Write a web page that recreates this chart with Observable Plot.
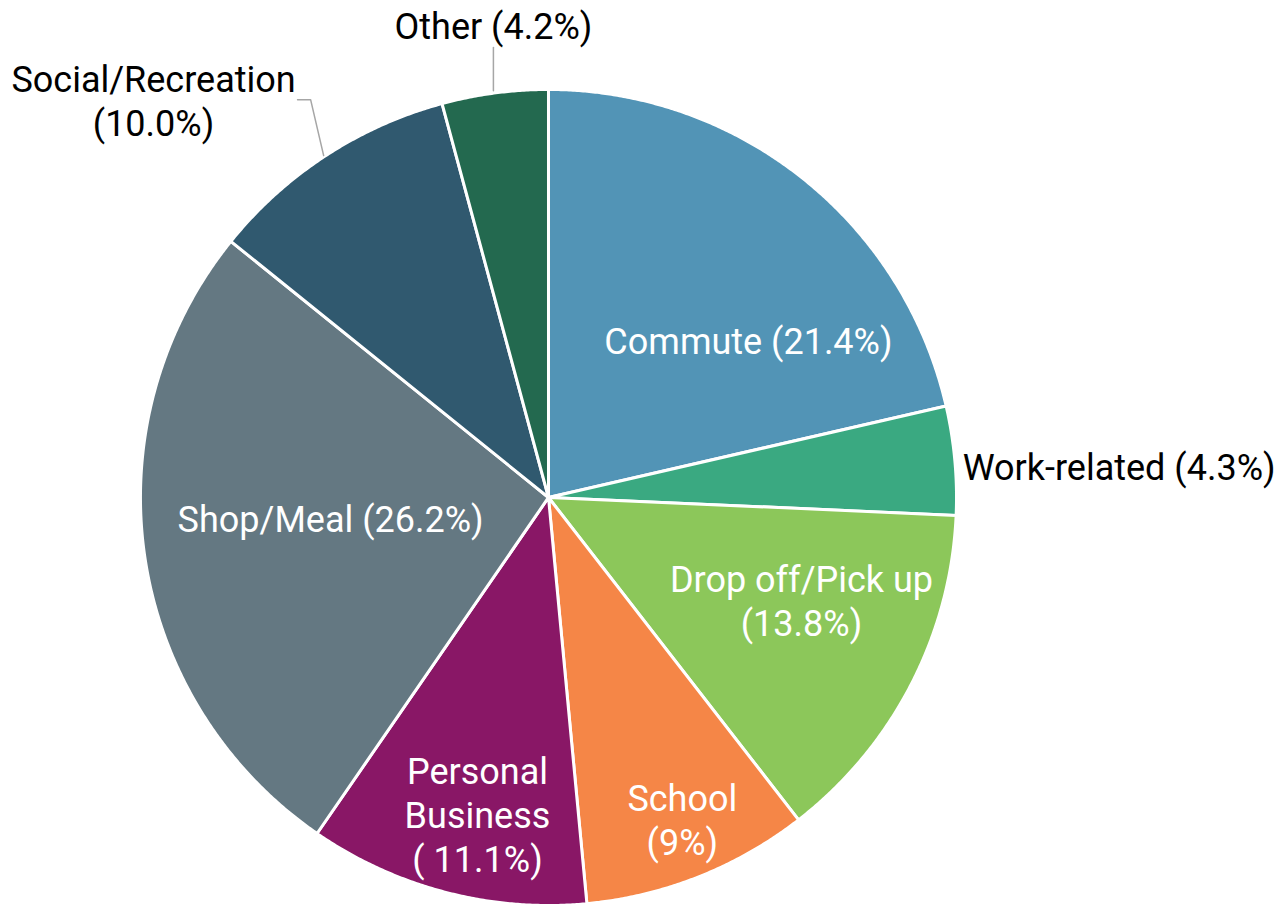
<!DOCTYPE html>
<html><head><meta charset="utf-8">
<script src="https://cdn.jsdelivr.net/npm/d3@7"></script>
<script src="https://cdn.jsdelivr.net/npm/@observablehq/plot@0.6"></script>
<style>body{margin:0;background:#fff} #chart{width:1280px;height:905px;overflow:hidden}</style>
</head><body><div id="chart"></div>
<script>
// ---- data ----
const categories = ["Commute","Work-related","Drop off/Pick up","School","Personal Business","Shop/Meal","Social/Recreation","Other"];
const shares = [21.4, 4.3, 13.8, 9, 11.1, 26.2, 10.0, 4.2];
const labelTexts = ["Commute (21.4%)","Work-related (4.3%)","Drop off/Pick up\n(13.8%)","School\n(9%)","Personal\nBusiness\n( 11.1%)","Shop/Meal (26.2%)","Social/Recreation\n(10.0%)","Other (4.2%)"];
const colors = ["#5294b6","#3aa981","#8cc75a","#f58647","#891766","#647882","#30596f","#23694f"];

// ---- label layout (unit-circle coordinates, y up) ----
const labelPos = [[0.490,0.385],[1.015,0.078],[0.620,-0.252],[0.328,-0.787],[-0.174,-0.775],[-0.534,-0.051],[-0.968,0.975],[-0.135,1.157]];
const labelAnchor = ["middle","start","middle","middle","middle","middle","middle","middle"];
const labelInside = [true,false,true,true,true,true,false,false];
const leaders = [
  [[-0.615,0.975],[-0.583,0.975],[-0.551,0.838]],
  [[-0.135,1.103],[-0.135,0.997]]
];
// visible extent of the drawing, in the same units
const extent = [[-1.343, -1.0], [1.794, 1.218]];

// ---- build slices via d3.pie ----
const pie = d3.pie().sort(null).value(d => d)(shares);
const slices = pie.map((p, i) => {
  const ring = [[0, 0]];
  const n = Math.max(8, Math.ceil((p.endAngle - p.startAngle) / 0.005));
  for (let k = 0; k <= n; k++) {
    const a = p.startAngle + (p.endAngle - p.startAngle) * k / n;
    ring.push([Math.sin(a), Math.cos(a)]);
  }
  ring.push([0, 0]);
  return {type: "Feature", properties: {name: categories[i], share: shares[i]}, geometry: {type: "Polygon", coordinates: [ring]}};
});
const labels = labelTexts.map((t, i) => ({text: t, x: labelPos[i][0], y: labelPos[i][1], anchor: labelAnchor[i], inside: labelInside[i]}));
const leaderFeatures = leaders.map(c => ({type: "Feature", geometry: {type: "LineString", coordinates: c}}));

const font = "Roboto, 'Open Sans', sans-serif";
const fs = 36;
const chart = Plot.plot({
  width: 1280, height: 905,
  margin: 0,
  projection: {type: "reflect-y", domain: {type: "MultiPoint", coordinates: extent}},
  color: {domain: categories, range: colors},
  style: {fontFamily: font, background: "#fff"},
  marks: [
    Plot.geo(slices, {fill: d => d.properties.name, stroke: "white", strokeWidth: 3, strokeLinejoin: "round"}),
    Plot.geo(leaderFeatures, {stroke: "#a6a6a6", strokeWidth: 1.5, fill: "none"}),
    Plot.text(labels.filter(d => d.anchor === "middle"), {x: "x", y: "y", text: "text", fill: d => d.inside ? "white" : "black", fontSize: fs, lineHeight: 44 / fs, lineAnchor: "middle", textAnchor: "middle"}),
    Plot.text(labels.filter(d => d.anchor === "start"), {x: "x", y: "y", text: "text", fill: "black", fontSize: fs, lineHeight: 44 / fs, lineAnchor: "middle", textAnchor: "start"})
  ]
});
document.getElementById("chart").appendChild(chart);
</script>
</body></html>
